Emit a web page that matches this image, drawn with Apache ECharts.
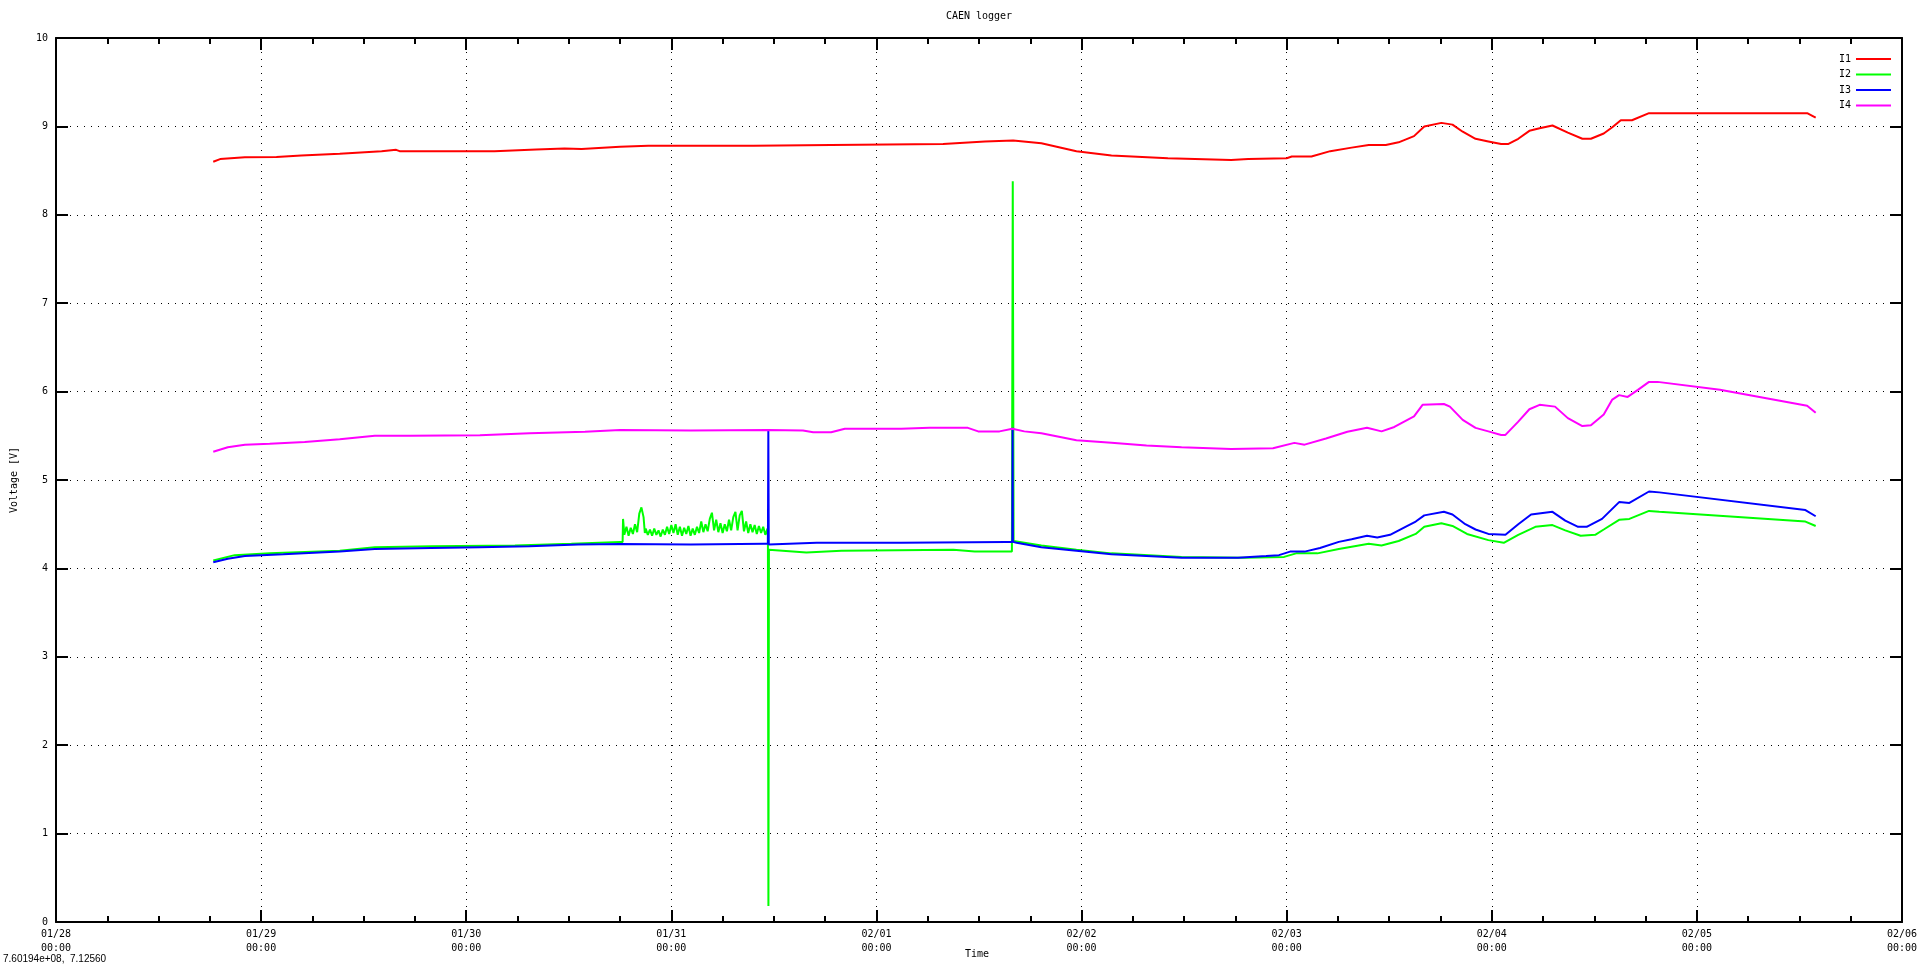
<!DOCTYPE html>
<html>
<head>
<meta charset="utf-8">
<script src="https://cdn.jsdelivr.net/npm/echarts@6/dist/echarts.min.js"></script>
<style>
html,body{margin:0;padding:0;background:#fff;}
#chart{width:1920px;height:977px;}
</style>
</head>
<body>
<div id="chart"></div>
<script>
// x values are hours since 01/28 00:00
const xTickLabels = ['01/28','01/29','01/30','01/31','02/01','02/02','02/03','02/04','02/05','02/06'];
const seriesNames = ['I1','I2','I3','I4'];
const seriesColors = ['#ff0000','#00ff00','#0000ff','#ff00ff'];

const i1Hours = [18.4,19.2,22.1,25.8,28.7,33.2,38.1,39.8,40.2,51.3,56.2,59.5,61.5,66.0,69.3,81.6,90.7,103.8,108.7,112.0,115.3,119.4,123.5,130.1,137.5,139.5,144.0,144.6,146.9,149.1,151.6,153.6,155.6,157.1,158.9,160.1,162.1,163.4,164.6,166.1,167.6,169.1,169.9,171.1,172.4,173.6,175.1,176.9,178.6,179.6,181.1,182.1,183.1,184.4,186.4,204.9,205.9];
const i1Volts = [8.60,8.63,8.65,8.655,8.67,8.69,8.72,8.735,8.72,8.72,8.74,8.75,8.745,8.77,8.78,8.78,8.79,8.80,8.83,8.84,8.81,8.72,8.67,8.64,8.62,8.63,8.64,8.66,8.66,8.72,8.76,8.79,8.79,8.82,8.89,9.00,9.04,9.02,8.94,8.86,8.83,8.80,8.80,8.86,8.95,8.98,9.01,8.93,8.86,8.86,8.92,8.99,9.07,9.07,9.15,9.15,9.10];

const i2Hours = [18.4,20.9,25.0,33.2,37.3,43.9,53.7,60.3,66.0,
  66.30,66.35,66.5,66.75,67.0,67.25,67.5,67.75,68.0,68.25,68.5,68.75,68.9,
  69.0,69.25,69.5,69.75,70.0,70.25,70.5,70.75,71.0,71.25,71.5,71.75,72.0,72.25,72.5,72.75,
  73.0,73.25,73.5,73.75,74.0,74.25,74.5,74.75,75.0,75.25,75.5,75.75,76.0,76.25,76.5,76.75,
  77.0,77.25,77.5,77.75,78.0,78.25,78.5,78.75,79.0,79.25,79.5,79.75,80.0,80.25,80.5,80.75,
  81.0,81.25,81.5,81.75,82.0,82.25,82.5,82.75,83.0,83.25,83.3,
  83.36,83.42,87.8,91.9,105.0,107.5,111.85,111.95,112.05,115.3,119.4,123.5,131.7,139.0,143.7,145.1,147.6,150.1,153.6,155.1,157.1,159.1,160.1,162.1,163.4,165.1,167.6,169.4,171.1,173.1,175.1,176.6,178.4,180.1,181.1,182.9,184.1,186.4,187.6,204.7,205.9];
const i2Volts = [4.09,4.15,4.17,4.20,4.24,4.25,4.26,4.28,4.30,
  4.30,4.56,4.38,4.47,4.37,4.46,4.39,4.50,4.41,4.62,4.69,4.58,4.40,
  4.45,4.38,4.44,4.37,4.45,4.38,4.43,4.36,4.44,4.38,4.47,4.39,4.49,4.40,4.50,4.38,
  4.47,4.37,4.46,4.39,4.48,4.37,4.45,4.38,4.47,4.40,4.53,4.41,4.50,4.42,4.56,4.63,
  4.43,4.55,4.41,4.51,4.40,4.50,4.42,4.55,4.43,4.58,4.64,4.43,4.60,4.65,4.42,4.53,
  4.40,4.50,4.41,4.49,4.39,4.48,4.40,4.47,4.38,4.45,4.38,
  0.18,4.21,4.18,4.20,4.21,4.19,4.19,8.38,4.31,4.26,4.21,4.17,4.13,4.12,4.13,4.17,4.17,4.22,4.28,4.26,4.31,4.39,4.47,4.51,4.48,4.39,4.32,4.29,4.38,4.47,4.49,4.43,4.37,4.38,4.44,4.55,4.56,4.65,4.64,4.53,4.48];

const i3Hours = [18.4,20.1,22.1,26.6,33.2,37.3,43.9,49.6,55.4,61.1,66.0,74.3,82.9,83.3,83.35,83.4,89.0,98.9,111.2,111.9,111.93,111.97,112.4,115.3,119.4,123.5,127.6,131.7,138.3,141.6,143.1,144.4,146.1,147.9,150.1,151.6,153.4,154.6,156.1,157.9,159.1,160.1,162.4,163.4,164.9,166.1,167.6,169.6,171.1,172.6,175.1,176.6,178.1,179.1,180.9,182.9,184.1,186.4,187.6,204.7,205.9];
const i3Volts = [4.07,4.11,4.14,4.16,4.19,4.22,4.23,4.24,4.25,4.27,4.275,4.27,4.28,4.28,5.56,4.27,4.29,4.29,4.30,4.30,5.59,4.30,4.29,4.24,4.20,4.16,4.14,4.12,4.12,4.14,4.15,4.19,4.19,4.23,4.30,4.33,4.37,4.35,4.38,4.47,4.53,4.60,4.64,4.61,4.50,4.44,4.39,4.38,4.50,4.61,4.64,4.54,4.47,4.47,4.56,4.75,4.74,4.87,4.86,4.66,4.59];

const i4Hours = [18.4,20.1,22.1,25.0,29.1,33.2,37.3,41.4,49.6,55.4,61.9,66.0,74.3,83.3,87.4,88.6,90.7,92.3,98.9,102.2,106.7,107.9,110.4,111.9,113.3,115.3,119.4,123.5,127.6,131.7,137.5,142.4,144.9,146.1,148.6,151.1,153.4,155.1,156.6,158.9,159.9,162.4,163.1,164.6,166.1,167.6,169.1,169.6,171.1,172.4,173.6,175.4,176.9,178.6,179.6,181.1,182.1,182.9,183.9,185.1,186.4,187.4,194.7,204.9,205.9];
const i4Volts = [5.32,5.37,5.40,5.41,5.43,5.46,5.50,5.50,5.505,5.53,5.545,5.565,5.56,5.565,5.56,5.54,5.54,5.58,5.58,5.59,5.59,5.55,5.55,5.58,5.55,5.53,5.45,5.42,5.39,5.37,5.35,5.36,5.42,5.40,5.47,5.545,5.59,5.55,5.60,5.72,5.85,5.86,5.83,5.68,5.59,5.55,5.51,5.51,5.66,5.80,5.85,5.83,5.70,5.61,5.62,5.74,5.91,5.96,5.94,6.02,6.11,6.11,6.02,5.84,5.76];

const seriesHours = [i1Hours, i2Hours, i3Hours, i4Hours];
const seriesVolts = [i1Volts, i2Volts, i3Volts, i4Volts];

const FONT = 'DejaVu Sans Mono';
const chart = echarts.init(document.getElementById('chart'), null, {renderer: 'canvas'});

const gridDots = {show: true, lineStyle: {color: '#000', width: 1, type: [1, 6]}};
const axisLine = {show: true, onZero: false, lineStyle: {color: '#000', width: 2}};

const option = {
  animation: false,
  backgroundColor: '#fff',
  grid: {left: 56, right: 18, top: 38, bottom: 55, containLabel: false, outerBoundsMode: 'none'},
  legend: {
    orient: 'vertical', right: 24, top: 48, align: 'right',
    icon: 'rect', itemWidth: 35, itemHeight: 2, itemGap: 3.5,
    textStyle: {fontFamily: FONT, fontSize: 10, color: '#000', lineHeight: 12},
    data: seriesNames
  },
  xAxis: [{
    type: 'value', min: 0, max: 216, interval: 24, position: 'bottom',
    axisLine: axisLine,
    axisTick: {show: true, inside: true, length: 12, lineStyle: {color: '#000', width: 2}},
    minorTick: {show: true, splitNumber: 4, length: 6, lineStyle: {color: '#000', width: 2}},
    splitLine: gridDots,
    axisLabel: {
      show: true, margin: 5, color: '#000', fontFamily: FONT, fontSize: 10, lineHeight: 14,
      formatter: v => xTickLabels[Math.round(v / 24)] + '\n00:00'
    }
  }, {
    type: 'value', min: 0, max: 216, interval: 24, position: 'top',
    axisLine: axisLine,
    axisTick: {show: true, inside: true, length: 12, lineStyle: {color: '#000', width: 2}},
    minorTick: {show: true, splitNumber: 4, length: 6, lineStyle: {color: '#000', width: 2}},
    splitLine: {show: false},
    axisLabel: {show: false}
  }],
  yAxis: [{
    type: 'value', min: 0, max: 10, interval: 1, position: 'left',
    axisLine: axisLine,
    axisTick: {show: true, inside: true, length: 12, lineStyle: {color: '#000', width: 2}},
    splitLine: gridDots,
    axisLabel: {show: true, margin: 8, color: '#000', fontFamily: FONT, fontSize: 10}
  }, {
    type: 'value', min: 0, max: 10, interval: 1, position: 'right',
    axisLine: axisLine,
    axisTick: {show: true, inside: true, length: 12, lineStyle: {color: '#000', width: 2}},
    splitLine: {show: false},
    axisLabel: {show: false}
  }],
  series: seriesNames.map((name, k) => ({
    name: name, type: 'line', xAxisIndex: 0, yAxisIndex: 0,
    showSymbol: false, symbol: 'none', smooth: false,
    color: seriesColors[k],
    lineStyle: {color: seriesColors[k], width: 2},
    data: seriesHours[k].map((h, i) => [h, seriesVolts[k][i]])
  })),
  graphic: [
    {type: 'text', x: 979, y: 16, style: {text: 'CAEN logger', font: '10px ' + FONT, fill: '#000', textAlign: 'center', textVerticalAlign: 'middle'}},
    {type: 'text', x: 977, y: 954, style: {text: 'Time', font: '10px ' + FONT, fill: '#000', textAlign: 'center', textVerticalAlign: 'middle'}},
    {type: 'text', x: 14, y: 480, rotation: Math.PI / 2, style: {text: 'Voltage [V]', font: '10px ' + FONT, fill: '#000', textAlign: 'center', textVerticalAlign: 'middle'}},
    {type: 'text', x: 3, y: 959, style: {text: '7.60194e+08,  7.12560', font: '10px "Liberation Sans"', fill: '#000', textAlign: 'left', textVerticalAlign: 'middle'}}
  ]
};
chart.setOption(option);
</script>
</body>
</html>
